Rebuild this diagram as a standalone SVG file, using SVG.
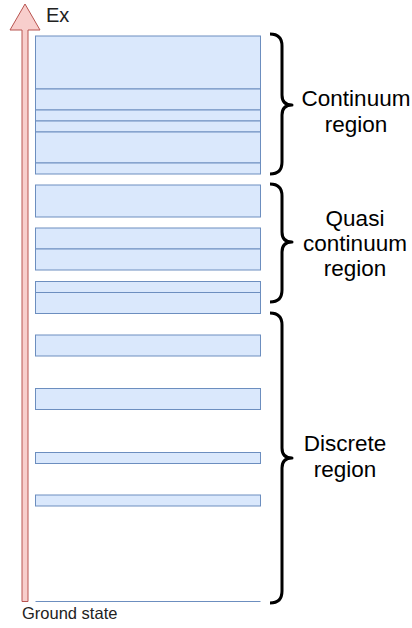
<svg xmlns="http://www.w3.org/2000/svg" width="412" height="628" viewBox="0 0 412 628">
<style>
.lvl{fill:#dae8fc;stroke:#6c8ebf;stroke-width:1}
.brace{fill:none;stroke:#000;stroke-width:3;stroke-linejoin:round}
.lbl{font-family:"Liberation Sans",Arial,sans-serif;font-size:22.5px;fill:#000;text-anchor:middle}
.small{font-family:"Liberation Sans",Arial,sans-serif;fill:#222}
</style>
<rect width="412" height="628" fill="#fff"/>
<g id="axis">
<polygon points="22,601.5 22,30 10,30 25,4 40,30 28,30 28,601.5" fill="#f8cecc" stroke="#b85450" stroke-width="1"/>
</g>
<g id="ex-label"><text class="small" x="46" y="22" font-size="20">Ex</text></g>
<g id="continuum-levels">
<rect class="lvl" x="35.5" y="36" width="225" height="53"/>
<rect class="lvl" x="35.5" y="89" width="225" height="21"/>
<rect class="lvl" x="35.5" y="110" width="225" height="11"/>
<rect class="lvl" x="35.5" y="121" width="225" height="11"/>
<rect class="lvl" x="35.5" y="132" width="225" height="31"/>
<rect class="lvl" x="35.5" y="163" width="225" height="11"/>
</g>
<g id="quasi-levels">
<rect class="lvl" x="35.5" y="185" width="225" height="32"/>
<rect class="lvl" x="35.5" y="228" width="225" height="21"/>
<rect class="lvl" x="35.5" y="249" width="225" height="21"/>
<rect class="lvl" x="35.5" y="281.5" width="225" height="11"/>
<rect class="lvl" x="35.5" y="292.5" width="225" height="21"/>
</g>
<g id="discrete-levels">
<rect class="lvl" x="35.5" y="335" width="225" height="21"/>
<rect class="lvl" x="35.5" y="388.5" width="225" height="21"/>
<rect class="lvl" x="35.5" y="452.5" width="225" height="11"/>
<rect class="lvl" x="35.5" y="495" width="225" height="11"/>
</g>
<g id="ground-state">
<line x1="35.5" y1="601.5" x2="260.5" y2="601.5" stroke="#6c8ebf" stroke-width="1"/>
<text class="small" x="22" y="619" font-size="16.5">Ground state</text>
</g>
<g id="connectors">
<path class="brace" d="M270,34 Q282,34 282,46 L282,95 Q282,105 292,105 Q282,105 282,115 L282,162 Q282,174 270,174"/>
<path class="brace" d="M270,184 Q282,184 282,196 L282,232 Q282,242 292,242 Q282,242 282,252 L282,290 Q282,302 270,302"/>
<path class="brace" d="M270,313 Q282,313 282,325 L282,448 Q282,458 292,458 Q282,458 282,468 L282,591 Q282,603 270,603"/>
</g>
<g id="continuum-label">
<text class="lbl" x="356" y="106">Continuum</text>
<text class="lbl" x="356" y="132">region</text>
</g>
<g id="quasi-label">
<text class="lbl" x="355" y="226">Quasi</text>
<text class="lbl" x="355" y="251">continuum</text>
<text class="lbl" x="355" y="276">region</text>
</g>
<g id="discrete-label">
<text class="lbl" x="345" y="451">Discrete</text>
<text class="lbl" x="345" y="477">region</text>
</g>
</svg>
